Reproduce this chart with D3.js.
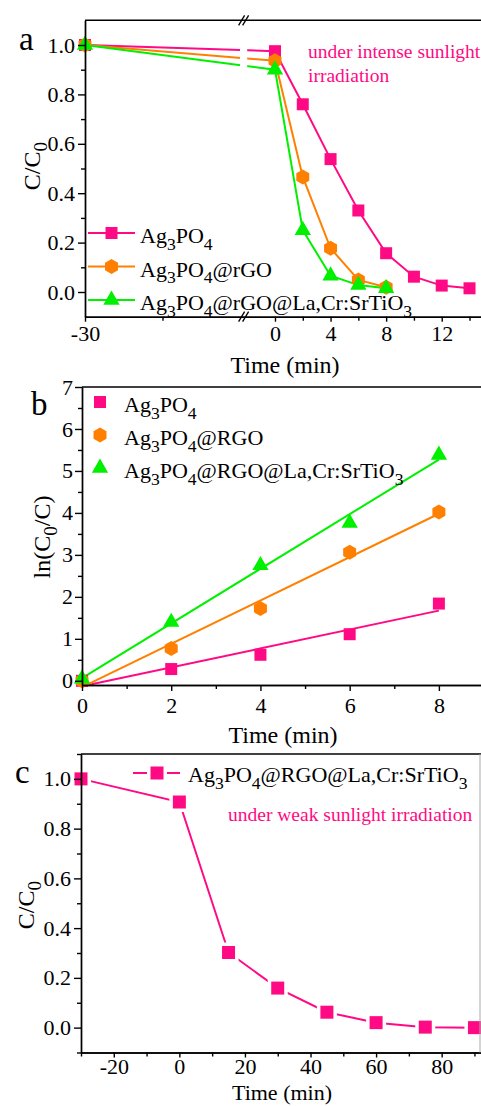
<!DOCTYPE html>
<html>
<head>
<meta charset="utf-8">
<script src="https://cdn.jsdelivr.net/npm/d3@7"></script>
<style>
  body { margin: 0; background: #fff; }
  .axis path, .axis line { stroke: #000; stroke-width: 1.4; }
</style>
</head>
<body>
<div id="chart-area"></div>
<script>
// ---- data, panel a (C/C0 vs time, intense light)
const timeA = [-30, 0, 2, 4, 6, 8, 10, 12, 14]
const ag3po4A = [1.0, 0.975, 0.76, 0.538, 0.33, 0.157, 0.062, 0.026, 0.015]
const timeA2 = [-30, 0, 2, 4, 6, 8]
const rgoA = [1.0, 0.936, 0.466, 0.177, 0.049, 0.019]
const laA = [1.0, 0.9, 0.25, 0.066, 0.028, 0.015]
const ticksA = [-30, 0, 4, 8, 12]
const minorA = [-20, 2, 6, 10, 14]

// ---- data, panel b (kinetics)
const timeB = [0, 2, 4, 6, 8]
const ag3po4B = [0, 0.28, 0.62, 1.11, 1.84]
const rgoB = [0, 0.77, 1.72, 3.06, 4.02]
const laB = [0.05, 1.40, 2.75, 3.76, 5.38]

// ---- data, panel c (weak light)
const timeC = [-30, 0, 15, 30, 45, 60, 75, 90]
const laC = [1.0, 0.907, 0.302, 0.159, 0.062, 0.02, 0.002, 0.0]

const PINK = '#ff0a84', ORANGE = '#ff8000', GREEN = '#00f000'
const FONT = '"Liberation Serif", Tinos, "Times New Roman", serif'

const svg = d3.select('#chart-area').append('svg')
  .attr('width', 481)
  .attr('height', 1106)
  .attr('font-family', FONT)
  .style('display', 'block')

// text with "_x" subscripts
function rich(sel, str, size) {
  const parts = str.split(/_(\d)/)
  const shift = size * 0.3
  parts.forEach((p, i) => {
    if (p === '') return
    const t = sel.append('tspan').text(p)
    if (i % 2 === 1) {
      t.attr('font-size', size * 0.8).attr('dy', shift)
    } else if (i > 0) {
      t.attr('dy', -shift)
    }
  })
  return sel
}

function hexPath(r) {
  const pts = d3.range(6).map(i => {
    const a = Math.PI / 3 * i - Math.PI / 2
    return [r * Math.cos(a), r * Math.sin(a)]
  })
  return 'M' + pts.join('L') + 'Z'
}
const shapes = {
  square: s => d3.symbol(d3.symbolSquare, s * s)(),
  triangle: s => d3.symbol(d3.symbolTriangle, s * s * 0.45)(),
  hexagon: s => hexPath(s / 2)
}

function marker(g, shape, size, color, cx, cy) {
  g.append('path')
    .attr('d', shapes[shape](size))
    .attr('transform', `translate(${cx},${cy})`)
    .attr('fill', color)
}

// draw an axis and force the serif font on it
function axis(transform, ax) {
  return svg.append('g').attr('class', 'axis').attr('transform', transform)
    .call(ax)
    .attr('font-family', FONT)
    .attr('font-size', 22)
}

function yTitle(x, cy, str) {
  rich(svg.append('text')
    .attr('transform', `translate(${x},${cy}) rotate(-90)`)
    .attr('text-anchor', 'middle')
    .attr('font-size', 24), str, 24)
}

function xTitle(cx, y, size = 24) {
  svg.append('text')
    .attr('x', cx).attr('y', y)
    .attr('text-anchor', 'middle')
    .attr('font-size', size)
    .text('Time (min)')
}

function panelLetter(x, y, s) {
  svg.append('text').attr('x', x).attr('y', y)
    .attr('font-size', 33).text(s)
}

const fmt1 = d3.format('.1f')
const plain = d => String(d)

// ================= panel a =================
{
  const x = d3.scaleLinear().domain([-30, -10, -2, 15]).range([85, 240, 247.2, 483.4])
  const y = d3.scaleLinear().domain([-0.1, 1.1]).range([316.7, 20.3])
  const g = svg.append('g')

  const series = [
    { t: timeA, v: ag3po4A, c: PINK, s: 'square', sz: 12, name: 'Ag_3PO_4' },
    { t: timeA2, v: rgoA, c: ORANGE, s: 'hexagon', sz: 15, name: 'Ag_3PO_4@rGO' },
    { t: timeA2, v: laA, c: GREEN, s: 'triangle', sz: 16, name: 'Ag_3PO_4@rGO@La,Cr:SrTiO_3' }
  ]
  const line = d3.line().x(d => x(d[0])).y(d => y(d[1]))
  series.forEach(sr => {
    g.append('path')
      .attr('d', line(d3.zip(sr.t, sr.v)))
      .attr('fill', 'none').attr('stroke', sr.c).attr('stroke-width', 2)
  })
  // break gap in the lines
  g.append('rect')
    .attr('x', x(-10)).attr('y', y(1.06))
    .attr('width', x(-2) - x(-10)).attr('height', y(0.85) - y(1.06))
    .attr('fill', '#fff')
  series.forEach(sr => {
    d3.zip(sr.t, sr.v).forEach(d => marker(g, sr.s, sr.sz, sr.c, x(d[0]), y(d[1])))
  })

  // legend
  series.forEach((sr, i) => {
    const ly = 233 + i * 33.5
    g.append('line').attr('x1', 88).attr('x2', 135).attr('y1', ly).attr('y2', ly)
      .attr('stroke', sr.c).attr('stroke-width', 2)
    marker(g, sr.s, sr.sz, sr.c, 111.5, ly)
    rich(g.append('text').attr('x', 140).attr('y', ly + 10).attr('font-size', 22), sr.name, 22)
  })

  g.append('text').attr('x', 308).attr('y', 58).attr('font-size', 19.5).attr('fill', PINK)
    .text('under intense sunlight')
  g.append('text').attr('x', 308).attr('y', 82).attr('font-size', 19.5).attr('fill', PINK)
    .text('irradiation')

  // axes
  axis(`translate(0,${y(-0.1)})`,
    d3.axisBottom(x).tickValues(ticksA).tickFormat(plain).tickSize(5).tickSizeOuter(0).tickPadding(4))
  axis(`translate(0,${y(-0.1)})`,
    d3.axisBottom(x).tickValues(minorA).tickSize(4).tickSizeOuter(0).tickFormat(''))
  axis(`translate(${x(-30)},0)`,
    d3.axisLeft(y).tickValues([0, 0.2, 0.4, 0.6, 0.8, 1.0]).tickFormat(fmt1)
      .tickSize(7).tickSizeOuter(0).tickPadding(3))
  axis(`translate(${x(-30)},0)`,
    d3.axisLeft(y).tickValues([0.1, 0.3, 0.5, 0.7, 0.9]).tickSize(4).tickSizeOuter(0).tickFormat(''))
  svg.append('line').attr('x1', x(-30)).attr('x2', 481).attr('y1', y(1.1)).attr('y2', y(1.1))
    .attr('stroke', '#000').attr('stroke-width', 1.4)
  // axis break marks
  ;[y(1.1), y(-0.1)].forEach(by => {
    [-2, 2].forEach(o => {
      svg.append('line')
        .attr('x1', (x(-10) + x(-2)) / 2 + o - 3).attr('y1', by + 5)
        .attr('x2', (x(-10) + x(-2)) / 2 + o + 3).attr('y2', by - 5)
        .attr('stroke', '#000').attr('stroke-width', 1.3)
    })
  })

  panelLetter(19, 50, 'a')
  yTitle(40, 166, 'C/C_0')
  xTitle(285, 373)
}

// ================= panel b =================
{
  const x = d3.scaleLinear().domain([0, 9]).range([82, 483.5])
  const y = d3.scaleLinear().domain([-0.1, 7]).range([685, 387])
  const g = svg.append('g')

  const series = [
    { v: ag3po4B, c: PINK, s: 'square', sz: 12, name: 'Ag_3PO_4' },
    { v: rgoB, c: ORANGE, s: 'hexagon', sz: 15, name: 'Ag_3PO_4@RGO' },
    { v: laB, c: GREEN, s: 'triangle', sz: 16, name: 'Ag_3PO_4@RGO@La,Cr:SrTiO_3' }
  ]
  series.forEach(sr => {
    // least-squares fit line
    const mx = d3.mean(timeB), my = d3.mean(sr.v)
    const k = d3.sum(timeB, (t, i) => (t - mx) * (sr.v[i] - my)) / d3.sum(timeB, t => (t - mx) ** 2)
    const b0 = my - k * mx
    g.append('line')
      .attr('x1', x(0)).attr('y1', y(b0))
      .attr('x2', x(8)).attr('y2', y(b0 + k * 8))
      .attr('stroke', sr.c).attr('stroke-width', 2)
  })
  series.forEach(sr => {
    timeB.forEach((t, i) => marker(g, sr.s, sr.sz, sr.c, x(t), y(sr.v[i])))
  })

  series.forEach((sr, i) => {
    const ly = 402 + i * 33
    marker(g, sr.s, sr.sz, sr.c, 100, ly)
    rich(g.append('text').attr('x', 124).attr('y', ly + 10).attr('font-size', 22), sr.name, 22)
  })

  axis(`translate(0,${y(-0.1)})`,
    d3.axisBottom(x).tickValues([0, 2, 4, 6, 8]).tickSize(6).tickSizeOuter(0).tickPadding(6))
  axis(`translate(0,${y(-0.1)})`,
    d3.axisBottom(x).tickValues([1, 3, 5, 7, 9]).tickSize(4).tickSizeOuter(0).tickFormat(''))
  axis(`translate(${x(0)},0)`,
    d3.axisLeft(y).tickValues(d3.range(0, 8)).tickSize(7).tickSizeOuter(0).tickPadding(2))
  axis(`translate(${x(0)},0)`,
    d3.axisLeft(y).tickValues(d3.range(0.5, 7, 1)).tickSize(4).tickSizeOuter(0).tickFormat(''))
  svg.append('line').attr('x1', x(0)).attr('x2', 481).attr('y1', y(7)).attr('y2', y(7))
    .attr('stroke', '#000').attr('stroke-width', 1.4)

  panelLetter(31, 415, 'b')
  yTitle(50, 537, 'ln(C_0/C)')
  xTitle(283, 743)
}

// ================= panel c =================
{
  const x = d3.scaleLinear().domain([-30, 92]).range([81, 481])
  const y = d3.scaleLinear().domain([-0.1, 1.1]).range([1052.5, 754])
  const g = svg.append('g')

  const pts = d3.zip(timeC, laC)
  g.append('path')
    .attr('d', d3.line().x(d => x(d[0])).y(d => y(d[1]))(pts))
    .attr('fill', 'none').attr('stroke', PINK).attr('stroke-width', 2)
  pts.forEach(d => marker(g, 'square', 20, '#fff', x(d[0]), y(d[1])))
  pts.forEach(d => marker(g, 'square', 13, PINK, x(d[0]), y(d[1])))

  // legend
  g.append('line').attr('x1', 133).attr('x2', 180).attr('y1', 773).attr('y2', 773)
    .attr('stroke', PINK).attr('stroke-width', 2)
  marker(g, 'square', 20, '#fff', 157, 773)
  marker(g, 'square', 13, PINK, 157, 773)
  rich(g.append('text').attr('x', 188).attr('y', 782).attr('font-size', 22), 'Ag_3PO_4@RGO@La,Cr:SrTiO_3', 22)

  g.append('text').attr('x', 228).attr('y', 821).attr('font-size', 19.5).attr('fill', PINK)
    .text('under weak sunlight irradiation')

  axis(`translate(0,${y(-0.1)})`,
    d3.axisBottom(x).tickValues([-20, 0, 20, 40, 60, 80]).tickFormat(plain)
      .tickSize(5).tickSizeOuter(0).tickPadding(1))
  axis(`translate(0,${y(-0.1)})`,
    d3.axisBottom(x).tickValues([-30, -10, 10, 30, 50, 70, 90]).tickSize(4).tickSizeOuter(0).tickFormat(''))
  axis(`translate(${x(-30)},0)`,
    d3.axisLeft(y).tickValues([0, 0.2, 0.4, 0.6, 0.8, 1.0]).tickFormat(fmt1)
      .tickSize(7).tickSizeOuter(0).tickPadding(3))
  axis(`translate(${x(-30)},0)`,
    d3.axisLeft(y).tickValues([-0.1, 0.1, 0.3, 0.5, 0.7, 0.9, 1.1]).tickSize(4).tickSizeOuter(0).tickFormat(''))
  svg.append('line').attr('x1', x(-30)).attr('x2', 481).attr('y1', y(1.1)).attr('y2', y(1.1))
    .attr('stroke', '#000').attr('stroke-width', 1.4)
  svg.append('line').attr('x1', 480).attr('x2', 480).attr('y1', y(1.1)).attr('y2', y(-0.1))
    .attr('stroke', '#aaa').attr('stroke-width', 1)

  panelLetter(15, 783, 'c')
  yTitle(34, 905, 'C/C_0')
  xTitle(282, 1100, 22)
}
</script>
</body>
</html>
